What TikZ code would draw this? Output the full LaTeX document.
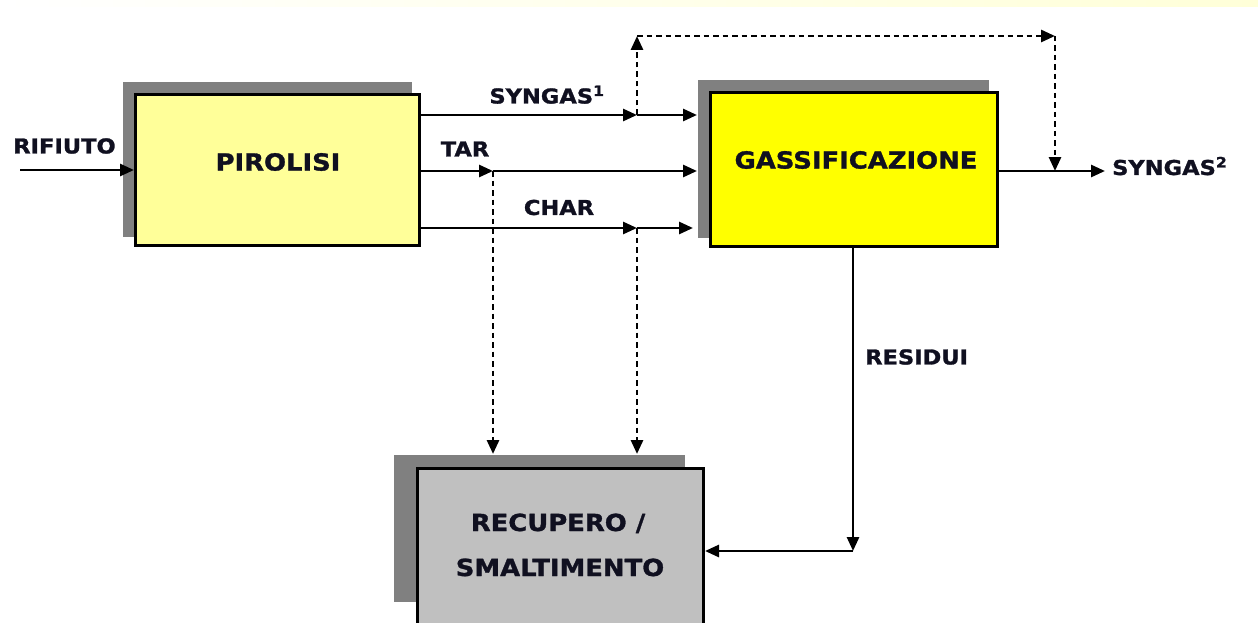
\documentclass[tikz,border=0pt]{standalone}
\usepackage{fontspec}
\setmainfont{DejaVu Sans}[FakeStretch=1.1,BoldFeatures={FakeBold=1.3}]
\usetikzlibrary{arrows.meta}
\definecolor{pirfill}{HTML}{FFFF99}
\definecolor{gasfill}{HTML}{FFFF00}
\definecolor{recfill}{HTML}{C0C0C0}
\definecolor{shadowgray}{HTML}{808080}
\definecolor{band}{HTML}{FFFFD8}
\definecolor{ink}{HTML}{101020}
\begin{document}
\begin{tikzpicture}[x=1pt,y=-1pt,
  box/.style={draw=black,line width=3pt,inner sep=0pt},
  bigtxt/.style={font=\bfseries\fontsize{23.5}{28}\selectfont,inner sep=0pt,text=ink},
  lbl/.style={font=\bfseries\fontsize{20.5}{24}\selectfont,inner sep=0pt,text=ink},
  flow/.style={line width=2.8pt,-{Triangle[length=14pt,width=12pt]}},
  dflow/.style={flow,dash pattern=on 5.5pt off 4pt},
  shadowbox/.style={fill=shadowgray}]
\useasboundingbox (0,0) rectangle (1258,623);
\shade[left color=white,right color=band] (0,0) rectangle (1258,7);
% shadows
\fill[shadowbox] (123,82) rectangle (412,237);
\fill[shadowbox] (698,80) rectangle (989,238);
\fill[shadowbox] (394,455) rectangle (685,602);
% boxes
\node[box,fill=pirfill,minimum width=284pt,minimum height=151pt] (pir) at (277.5,170) {};
\node[box,fill=gasfill,minimum width=287pt,minimum height=154pt] (gas) at (854,169.5) {};
\node[box,fill=recfill,minimum width=286pt,minimum height=172pt] (rec) at (560.5,554.5) {};
% box texts
\node[bigtxt] (pirt) at (278,162) {PIROLISI};
\node[bigtxt] (gast) at (856,160) {GASSIFICAZIONE};
\node[bigtxt,anchor=base] (rect1) at (558,531) {RECUPERO /};
\node[bigtxt,anchor=base] (rect2) at (560,576) {SMALTIMENTO};
% coordinates
\coordinate (rif) at (20,170);
\coordinate (s1m) at (637,115);
\coordinate (s1e) at (697,115);
\coordinate (tm) at (493,171);
\coordinate (te) at (697,171);
\coordinate (cm) at (637,228);
\coordinate (ce) at (693,228);
\coordinate (tl) at (637,36);
\coordinate (tr) at (1055,36);
\coordinate (s2j) at (1055,171);
\coordinate (s2e) at (1105,171);
\coordinate (rtop) at (0,454);
\coordinate (rc) at (853,551);
% labels
\node[lbl] (rifl) at (64.5,146) {RIFIUTO};
\node[lbl,anchor=base] (s1l) at (547,103.5) {SYNGAS\textsuperscript{1}};
\node[lbl] (tarl) at (465,149) {TAR};
\node[lbl] (charl) at (559,207.5) {CHAR};
\node[lbl,anchor=base west] (s2l) at (1112,175) {SYNGAS\textsuperscript{2}};
\node[lbl,anchor=west] (resl) at (865,357) {RESIDUI};
% solid flows
\draw[flow] (rif) -- (pir.west);
\draw[flow] (pir.east |- s1m) -- (s1m);
\draw[flow] (s1m) -- (s1e);
\draw[flow] (pir.east |- tm) -- (tm);
\draw[flow] (tm) -- (te);
\draw[flow] (pir.east |- cm) -- (cm);
\draw[flow] (cm) -- (ce);
\draw[flow] (gas.east |- s2e) -- (s2e);
\draw[flow] (gas.south -| rc) -- (rc);
\draw[flow] (rc) -- (rec.east |- rc);
% dashed flows
\draw[dflow] (s1m) -- (tl);
\draw[dflow] (tl) -- (tr);
\draw[dflow] (tr) -- (s2j);
\draw[dflow] (tm) -- (tm |- rtop);
\draw[dflow] (cm) -- (cm |- rtop);
\end{tikzpicture}
\end{document}
